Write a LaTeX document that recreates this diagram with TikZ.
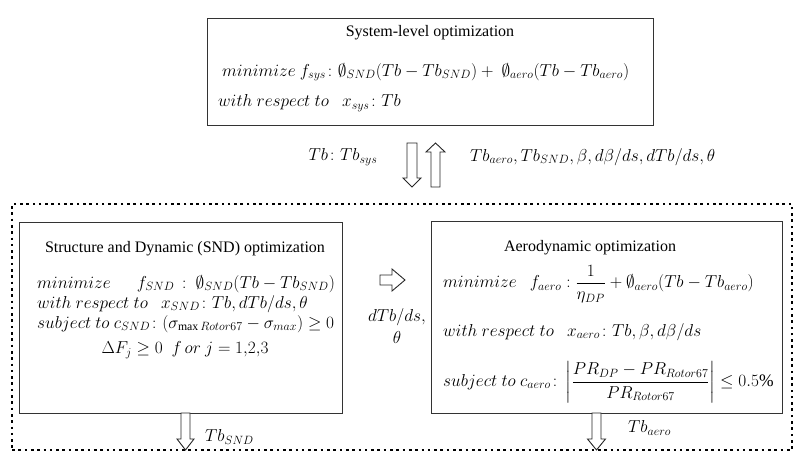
\documentclass[tikz,border=0pt]{standalone}
\usepackage{amsmath,amssymb}
\usepackage{fontspec}
\setmainfont{Liberation Serif}
\newcommand\DownBlock[7]{% name, cx, sw, hw, top, headbase, tip
  \draw[blk] (#2-#3,#5) coordinate (#1-top) -- (#2+#3,#5) -- (#2+#3,#6) -- (#2+#4,#6) -- (#2,#7) coordinate (#1-tip) -- (#2-#4,#6) -- (#2-#3,#6) -- cycle;}
\newcommand\UpBlock[7]{% name, cx, sw, hw, bottom, headbase, tip
  \draw[blk] (#2-#3,#5) coordinate (#1-bot) -- (#2+#3,#5) -- (#2+#3,#6) -- (#2+#4,#6) -- (#2,#7) coordinate (#1-tip) -- (#2-#4,#6) -- (#2-#3,#6) -- cycle;}
\newcommand\wrt{with\ respect\ to}
\newcommand\sto{subject\ to}
\begin{document}
\begin{tikzpicture}[x=1pt,y=-1pt,
  font=\fontsize{16}{19}\selectfont,
  mfont/.style={font=\fontsize{17.5}{20}\selectfont},
  sfont/.style={font=\fontsize{16.8}{20}\selectfont},
  box/.style={draw=black!80, line width=0.9pt, inner sep=0pt, fill=white},
  dotbox/.style={draw=black, line width=2.6pt, dash pattern=on 2.6pt off 3.7pt, inner sep=0pt},
  txt/.style={inner sep=0pt},
  ltxt/.style={inner sep=0pt, anchor=west, mfont},
  mtxt/.style={inner sep=0pt, mfont},
  blk/.style={draw=black!85, line width=0.9pt, fill=white, line join=miter}]
\useasboundingbox (0,0) rectangle (798,454);

% outer dotted frame
\node[dotbox, minimum width=780, minimum height=246] (sub) at (402,327) {};

% system-level box
\node[box, minimum width=446, minimum height=107] (sys) at (430,71.5) {};
\node[txt] (systitle) at (430,33) {System-level optimization};
\node[ltxt, sfont] (sys1) at (222,72) {$minimize\ f_{sys}\colon \emptyset_{SND}(Tb-Tb_{SND}) +\ \emptyset_{aero}(Tb-Tb_{aero})$};
\node[ltxt] (sys2) at (218,103) {$\wrt\ \ \ x_{sys}\colon Tb$};

% SND box
\node[box, minimum width=323, minimum height=191] (snd) at (180.5,317.5) {};
\node[txt] (sndtitle) at (185,249) {Structure and Dynamic (SND) optimization};
\node[ltxt] (snd1) at (37,284) {$minimize\quad\ \ f_{SND}\,:\ \emptyset_{SND}(Tb-Tb_{SND})$};
\node[ltxt] (snd2) at (37,304) {$\wrt\ \ \ x_{SND}\colon Tb, dTb/ds,\theta$};
\node[ltxt, sfont] (snd3) at (37,324) {$\sto\ c_{SND}\colon(\sigma_{\max Rotor67}-\sigma_{max})\geq 0$};
\node[mtxt] (snd4) at (185,350) {$\Delta F_j\geq 0\ \ f\,or\ j=1{,}2{,}3$};

% aero box
\node[box, minimum width=351, minimum height=192] (aero) at (606.5,317) {};
\node[txt] (aerotitle) at (590,248) {Aerodynamic optimization};
\node[ltxt] (aero1) at (443,284) {$minimize\ \ \ f_{aero}:\dfrac{1}{\eta_{DP}}+\emptyset_{aero}(Tb-Tb_{aero})$};
\node[ltxt] (aero2) at (443,332) {$\wrt\ \ \ x_{aero}\colon Tb,\beta,d\beta/ds$};
\node[ltxt] (aero3) at (443,382) {$\sto\ c_{aero}\colon\left|\dfrac{PR_{DP}-PR_{Rotor67}}{PR_{Rotor67}}\right|\leq 0.5\%$};

% block arrows between system and subsystems
\DownBlock{dn}{412}{5}{9}{143}{178}{187}
\UpBlock{up}{435.5}{4.5}{9.5}{187}{152}{143}
\node[mtxt] (lblsys) at (343,157) {$Tb\colon Tb_{sys}$};
\node[ltxt] (lblup) at (470,157) {$Tb_{aero}, Tb_{SND}, \beta, d\beta/ds, dTb/ds, \theta$};

% right arrow SND -> aero
\draw[blk] (380,275) coordinate (ra-start) -- (392,275) -- (392,269) -- (405,280) coordinate (ra-tip) -- (392,291) -- (392,285) -- (380,285) -- cycle;
\node[mtxt] (lblr1) at (397,317) {$dTb/ds,$};
\node[mtxt] (lblr2) at (397,338) {$\theta$};

% bottom arrows
\DownBlock{sd}{185.5}{4.5}{8.5}{413}{439}{450}
\DownBlock{ad}{596.5}{4.5}{9}{413}{439}{450}
\node[ltxt] (lblsnd) at (205,437) {$Tb_{SND}$};
\node[ltxt] (lblaero) at (628,428) {$Tb_{aero}$};
\end{tikzpicture}
\end{document}
